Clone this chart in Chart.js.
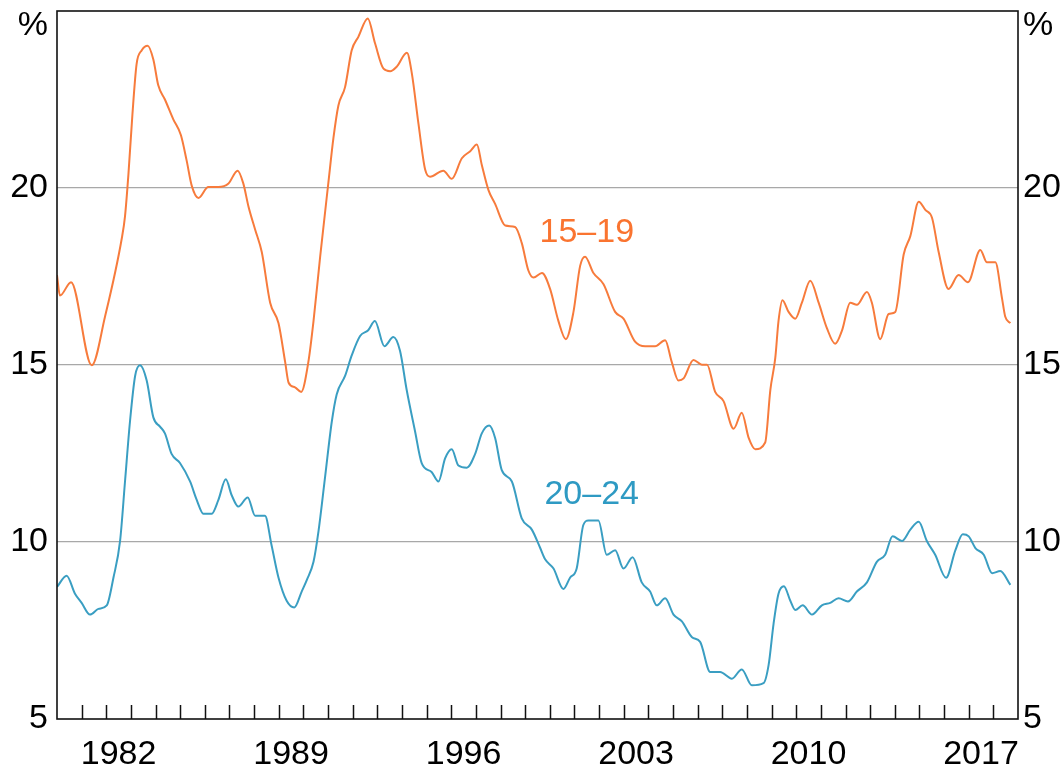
<!DOCTYPE html>
<html>
<head>
<meta charset="utf-8">
<script src="https://cdn.jsdelivr.net/npm/chart.js@4.4.1/dist/chart.umd.min.js"></script>
<style>
  html, body { margin: 0; padding: 0; background: #fff; }
  #wrap { width: 1064px; height: 771px; }
</style>
</head>
<body>
<div id="wrap"><canvas id="c" width="1064" height="771"></canvas></div>
<script>
// ---- Data (youth unemployment rate, %, by age group) ----
const years1519 = [
  1980.00,1980.12,1980.57,1981.41,1981.95,1982.63,1982.76,1982.90,1983.06,1983.23,
  1983.44,1983.68,1983.91,1984.11,1984.38,1984.72,1985.03,1985.26,1985.47,1985.74,
  1986.14,1986.55,1986.96,1987.33,1987.56,1987.77,1988.04,1988.31,1988.65,1988.99,
  1989.26,1989.40,1989.66,1989.91,1990.20,1990.41,1990.68,1991.01,1991.22,1991.42,
  1991.69,1991.96,1992.23,1992.61,1992.91,1993.25,1993.52,1993.79,1994.20,1994.40,
  1994.67,1994.94,1995.14,1995.68,1996.02,1996.43,1996.77,1997.04,1997.24,1997.51,
  1997.78,1998.19,1998.59,1998.86,1999.13,1999.34,1999.68,2000.01,2000.35,2000.65,
  2000.96,2001.23,2001.43,2001.77,2002.18,2002.65,2002.99,2003.46,2003.87,2004.27,
  2004.68,2004.95,2005.22,2005.43,2005.83,2006.17,2006.38,2006.71,2007.05,2007.46,
  2007.79,2008.07,2008.34,2008.74,2008.95,2009.15,2009.28,2009.44,2009.69,2009.96,
  2010.23,2010.57,2010.91,2011.24,2011.58,2011.86,2012.19,2012.46,2012.87,2013.07,
  2013.41,2013.75,2014.02,2014.36,2014.63,2014.97,2015.24,2015.51,2015.78,2016.18,
  2016.59,2016.97,2017.47,2017.74,2018.08,2018.35,2018.48,2018.69
];
const rate1519 = [
  17.54,16.96,17.34,14.99,16.37,18.58,19.20,20.40,22.07,23.50,
  23.89,24.02,23.63,22.90,22.50,21.94,21.49,20.78,20.06,19.72,
  20.03,20.03,20.13,20.49,20.13,19.48,18.83,18.19,16.76,16.18,
  15.08,14.50,14.37,14.24,15.08,16.24,18.06,20.13,21.42,22.33,
  22.85,23.89,24.27,24.79,24.08,23.37,23.30,23.43,23.82,23.24,
  21.81,20.52,20.32,20.49,20.26,20.84,21.04,21.23,20.65,19.94,
  19.55,18.94,18.90,18.45,17.67,17.47,17.60,17.15,16.24,15.73,
  16.50,17.80,18.06,17.60,17.28,16.50,16.31,15.66,15.53,15.53,
  15.70,15.08,14.56,14.62,15.14,15.01,15.01,14.24,13.98,13.20,
  13.65,12.94,12.62,12.81,14.30,15.20,16.24,16.83,16.50,16.31,
  16.76,17.38,16.76,16.05,15.60,15.98,16.76,16.70,17.06,16.76,
  15.73,16.44,16.50,18.12,18.64,19.61,19.38,19.16,18.19,17.15,
  17.54,17.34,18.25,17.90,17.90,16.89,16.37,16.18
];
const years2024 = [
  1980.00,1980.39,1980.73,1981.00,1981.34,1981.68,1982.02,1982.29,1982.56,1982.76,
  1982.96,1983.17,1983.37,1983.64,1983.91,1984.18,1984.38,1984.65,1984.99,1985.40,
  1985.67,1985.94,1986.28,1986.55,1986.85,1987.09,1987.36,1987.74,1988.04,1988.44,
  1988.71,1988.99,1989.32,1989.63,1989.93,1990.14,1990.41,1990.61,1990.88,1991.15,
  1991.35,1991.69,1991.96,1992.30,1992.63,1992.90,1993.29,1993.65,1993.92,1994.19,
  1994.53,1994.80,1995.21,1995.48,1995.75,1996.02,1996.29,1996.63,1996.97,1997.24,
  1997.54,1997.78,1998.05,1998.46,1998.86,1999.27,1999.61,1999.81,2000.15,2000.55,
  2000.82,2001.09,2001.36,2001.57,2001.97,2002.31,2002.65,2002.99,2003.36,2003.73,
  2004.07,2004.34,2004.68,2005.02,2005.36,2005.77,2006.10,2006.51,2006.91,2007.39,
  2007.79,2008.20,2008.67,2008.88,2009.08,2009.28,2009.50,2009.76,2009.96,2010.26,
  2010.64,2011.04,2011.38,2011.72,2012.10,2012.46,2012.87,2013.27,2013.61,2013.91,
  2014.29,2014.63,2014.97,2015.30,2015.64,2016.08,2016.46,2016.76,2017.00,2017.27,
  2017.61,2017.95,2018.28,2018.69
];
const rate2024 = [
  8.73,9.05,8.54,8.28,7.95,8.11,8.21,8.99,10.03,11.71,
  13.39,14.69,14.99,14.56,13.52,13.26,13.07,12.49,12.23,11.71,
  11.19,10.80,10.80,11.19,11.77,11.32,11.00,11.26,10.74,10.74,
  9.90,8.99,8.34,8.15,8.60,8.93,9.44,10.29,11.84,13.39,
  14.17,14.69,15.27,15.82,15.98,16.24,15.53,15.79,15.40,14.30,
  13.13,12.23,11.97,11.71,12.36,12.62,12.16,12.10,12.49,13.07,
  13.29,12.94,12.03,11.71,10.67,10.35,9.83,9.51,9.25,8.67,
  8.99,9.25,10.48,10.61,10.61,9.64,9.77,9.25,9.57,8.86,
  8.60,8.21,8.41,7.95,7.76,7.31,7.18,6.33,6.33,6.14,
  6.40,5.95,6.01,6.53,7.69,8.54,8.75,8.34,8.08,8.21,
  7.95,8.21,8.28,8.41,8.32,8.60,8.86,9.44,9.64,10.16,
  10.03,10.35,10.57,10.03,9.64,8.99,9.77,10.22,10.16,9.83,
  9.64,9.12,9.18,8.79
];
const seriesNames = ['15–19', '20–24'];
const seriesLabelAt = [[2001.5, 18.73], [2001.7, 11.33]];
const xLabelYears = [1982, 1989, 1996, 2003, 2010, 2017];
const xRange = [1980, 2019];
const yRange = [5, 25];
const yGridValues = [10, 15, 20];

// ---- Styles ----
const ORANGE = '#F77B3C';
const ORANGE_TEXT = '#FA7430';
const TEAL = '#3A9EC2';
const TEAL_TEXT = '#2E9AC3';
const FONT = "'Liberation Sans', Arial, sans-serif";
const FSIZE = 34;

const toPts = (xs, vs) => xs.map((x, i) => ({ x: x, y: vs[i] }));

const decorPlugin = {
  id: 'decor',
  afterDraw(chart) {
    const { ctx, chartArea: ca, scales } = chart;
    const xs = scales.x, ys = scales.y;
    ctx.save();
    // inward year tick marks
    ctx.strokeStyle = '#111';
    ctx.lineWidth = 1.5;
    ctx.beginPath();
    for (let yr = xRange[0] + 1; yr < xRange[1]; yr++) {
      const px = Math.round(xs.getPixelForValue(yr)) + 0.5;
      ctx.moveTo(px, ca.bottom);
      ctx.lineTo(px, ca.bottom - 14);
    }
    ctx.stroke();
    // frame
    ctx.lineWidth = 1.6;
    ctx.strokeRect(ca.left, ca.top, ca.right - ca.left, ca.bottom - ca.top);
    // % unit labels
    ctx.fillStyle = '#000';
    ctx.font = FSIZE + 'px ' + FONT;
    ctx.textBaseline = 'middle';
    ctx.textAlign = 'right';
    ctx.fillText('%', ca.left - 9, ca.top + 15);
    ctx.textAlign = 'left';
    ctx.fillText('%', ca.right + 5, ca.top + 15);
    // series labels
    ctx.textAlign = 'center';
    const cols = [ORANGE_TEXT, TEAL_TEXT];
    seriesNames.forEach((n, i) => {
      ctx.fillStyle = cols[i];
      ctx.fillText(n, xs.getPixelForValue(seriesLabelAt[i][0]), ys.getPixelForValue(seriesLabelAt[i][1]));
    });
    ctx.restore();
  }
};

const yTickCb = v => (v === yRange[1] ? '' : String(v));
const fitY = w => s => { s.width = w; s.paddingTop = 0; s.paddingBottom = 0; };

new Chart(document.getElementById('c'), {
  type: 'line',
  data: {
    datasets: [
      { label: seriesNames[0], data: toPts(years1519, rate1519), borderColor: ORANGE,
        borderWidth: 2, pointRadius: 0, cubicInterpolationMode: 'monotone', fill: false },
      { label: seriesNames[1], data: toPts(years2024, rate2024), borderColor: TEAL,
        borderWidth: 2, pointRadius: 0, cubicInterpolationMode: 'monotone', fill: false }
    ]
  },
  options: {
    responsive: false,
    animation: false,
    devicePixelRatio: 1,
    layout: { padding: { top: 11, left: 0, right: 0, bottom: 0 } },
    plugins: { legend: { display: false }, tooltip: { enabled: false } },
    scales: {
      x: {
        type: 'linear', min: xRange[0], max: xRange[1],
        afterFit: s => { s.height = 52; s.paddingLeft = 0; s.paddingRight = 0; },
        grid: { display: false, drawTicks: false },
        border: { display: false },
        ticks: {
          stepSize: 1, autoSkip: false, maxRotation: 0, padding: 15,
          labelOffset: 12.3,
          color: '#000', font: { family: FONT, size: FSIZE },
          callback: v => (xLabelYears.includes(v) ? String(v) : '')
        }
      },
      y: {
        position: 'left', min: yRange[0], max: yRange[1],
        afterFit: fitY(57),
        grid: {
          drawTicks: false,
          color: c => (yGridValues.includes(c.tick.value) ? '#A8A8A8' : 'rgba(0,0,0,0)'),
          lineWidth: 1.2
        },
        border: { display: false },
        ticks: { stepSize: 5, padding: 9, color: '#000', font: { family: FONT, size: FSIZE }, callback: yTickCb }
      },
      y2: {
        position: 'right', min: yRange[0], max: yRange[1],
        afterFit: fitY(46),
        grid: { display: false, drawTicks: false },
        border: { display: false },
        ticks: { stepSize: 5, padding: 5, color: '#000', font: { family: FONT, size: FSIZE }, callback: yTickCb }
      }
    }
  },
  plugins: [decorPlugin]
});
</script>
</body>
</html>
